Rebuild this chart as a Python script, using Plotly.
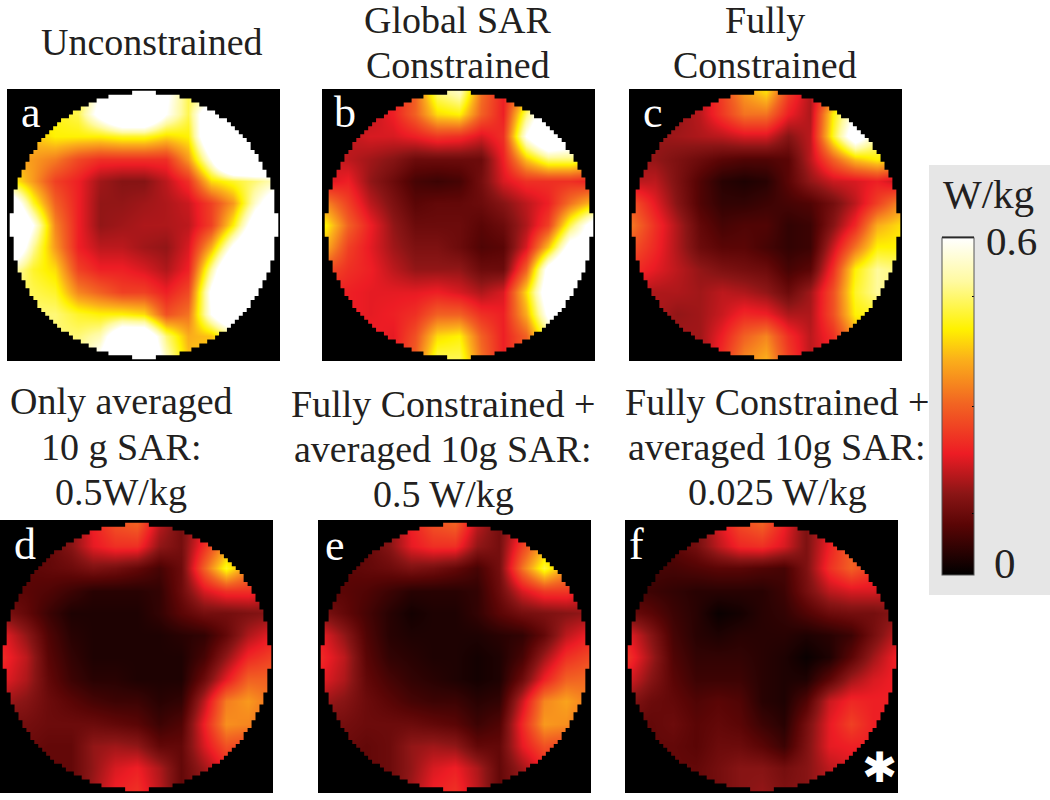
import plotly.graph_objects as go

# SAR maps, sampled on a 13x13 grid over each disc, in units of 0.01 W/kg (values above 60 clip to white)
sar_a = [
 [45,45,45,45,60,72,72,62,48,48,55,60,60],
 [45,45,45,48,64,80,80,60,48,72,80,80,80],
 [40,40,44,44,44,46,46,42,44,75,90,85,80],
 [38,36,33,27,24,24,24,24,36,60,95,95,80],
 [45,36,26,22,16,14,14,18,24,42,46,50,55],
 [70,46,30,22,15,15,16,17,19,26,36,56,70],
 [82,60,34,22,15,16,17,17,18,26,44,68,80],
 [75,52,36,22,18,18,16,15,20,38,62,78,75],
 [55,46,42,26,22,22,20,17,22,52,80,80,75],
 [50,48,46,34,30,26,26,22,27,62,85,80,75],
 [50,50,50,46,44,44,42,28,32,60,80,70,65],
 [50,50,50,50,54,72,72,50,38,40,50,50,50],
 [50,50,50,52,62,78,78,55,40,40,50,50,50]]
sar_b = [
 [18,18,18,22,30,50,55,32,22,35,45,45,45],
 [18,18,18,22,30,42,44,30,22,50,70,50,50],
 [18,18,20,20,22,25,24,20,24,60,78,70,60],
 [20,18,16,14,11,11,11,11,22,40,50,50,44],
 [20,22,15,11,7,6,7,12,20,24,24,24,22],
 [34,26,18,13,9,10,10,11,14,18,22,32,40],
 [44,30,22,15,11,11,11,9,11,17,26,48,65],
 [38,26,21,16,13,13,11,8,9,20,40,65,65],
 [28,24,22,18,15,15,15,11,11,30,64,80,70],
 [22,22,21,21,21,22,20,17,20,42,68,70,70],
 [22,22,21,22,24,30,30,24,22,38,62,60,60],
 [22,22,22,21,28,42,44,30,22,30,50,50,50],
 [22,22,22,22,30,48,48,32,22,30,45,45,45]]
sar_c = [
 [15,15,15,18,26,36,42,26,17,30,45,50,50],
 [15,15,15,18,25,32,32,22,17,44,60,50,50],
 [15,15,16,17,18,20,20,14,18,46,68,52,50],
 [16,15,13,11,9,8,8,9,18,30,40,44,40],
 [18,18,13,8,4,3,4,9,15,19,20,22,18],
 [28,21,14,8,5,5,6,7,8,12,18,26,34],
 [32,24,17,10,7,8,8,5,6,14,23,38,42],
 [28,23,17,11,9,9,7,5,6,19,32,44,44],
 [24,21,18,15,13,12,11,7,9,24,44,52,50],
 [18,17,17,16,18,17,15,11,16,28,46,52,50],
 [17,17,15,16,19,23,22,17,17,28,44,46,46],
 [16,16,16,16,22,30,34,24,18,24,36,40,40],
 [16,16,16,16,24,34,38,26,18,22,30,36,36]]
sar_d = [
 [10,10,10,14,22,28,30,18,12,20,28,28,28],
 [10,10,10,14,21,24,24,15,12,24,36,30,30],
 [9,9,10,11,13,12,10,7,11,30,46,34,30],
 [9,9,8,6,4,4,4,5,11,20,24,24,20],
 [13,10,6,3,3,3,3,5,9,12,12,13,14],
 [21,15,8,4,3,3,3,3,4,5,10,17,21],
 [23,18,9,5,3,3,3,3,3,7,15,23,26],
 [21,17,10,6,4,4,3,3,3,11,21,30,30],
 [16,14,11,9,7,6,6,4,5,18,33,36,32],
 [12,12,11,11,11,10,9,6,8,22,35,34,30],
 [11,11,10,10,15,16,15,10,10,20,28,26,26],
 [10,10,10,10,15,20,22,17,10,16,22,22,22],
 [10,10,10,10,16,22,24,18,10,14,20,20,20]]
sar_e = [
 [10,10,10,14,22,28,30,18,12,20,30,30,30],
 [10,10,10,14,21,24,24,15,12,26,38,32,32],
 [9,9,10,11,13,12,10,7,12,32,47,36,32],
 [9,9,8,6,4,4,4,5,11,20,25,25,20],
 [13,10,7,4,2,3,3,5,9,12,13,14,15],
 [21,15,8,4,3,3,3,3,4,5,10,18,22],
 [23,18,9,5,4,3,3,2,3,7,16,24,27],
 [21,17,10,7,5,4,3,2,3,11,22,30,31],
 [16,14,11,9,7,6,6,4,5,19,34,37,33],
 [12,12,11,11,11,10,9,6,8,23,36,35,30],
 [11,11,10,11,15,16,15,10,10,21,28,26,26],
 [10,10,10,11,15,20,22,17,10,16,22,22,22],
 [10,10,10,11,16,22,24,18,10,14,20,20,20]]
sar_f = [
 [7,7,7,12,20,27,30,22,13,20,27,27,27],
 [8,8,9,12,18,23,24,20,13,22,30,27,27],
 [7,7,7,8,9,9,8,7,13,24,30,25,24],
 [7,6,5,4,4,4,4,6,12,18,20,20,18],
 [11,9,6,4,1,2,4,5,8,11,12,12,14],
 [21,14,7,4,3,4,4,4,3,4,6,12,18],
 [24,16,8,5,5,5,4,3,1,3,9,16,22],
 [20,14,9,6,6,6,4,3,3,9,16,20,22],
 [14,11,10,8,9,8,4,3,8,19,23,22,22],
 [10,10,11,9,10,9,6,4,12,21,26,22,22],
 [10,10,10,9,11,11,9,6,13,21,22,22,22],
 [10,10,10,10,12,14,14,12,14,18,20,20,20],
 [10,10,10,10,12,14,15,13,14,18,20,20,20]]
panel_maps = [sar_a, sar_b, sar_c, sar_d, sar_e, sar_f]
panel_letters = ["a", "b", "c", "d", "e", "f"]

# Colour scale
scale_stops = [0, .15, .24, .36, .51, .64, .73, .87, 1]
scale_colors = ["#000000", "#5a0505", "#8a1515", "#ed1c24", "#f26522", "#fbb01a", "#fff200", "#fffaa0", "#ffffff"]
zmax = 0.6

W, H = 1050, 800
# Layout in page pixels: panel box (l, r, t, b), disc centre (cx, cy), disc radius
boxes = [(7, 280, 89, 361), (322, 595, 89, 361), (629, 902, 89, 361),
         (0, 273, 520, 793), (318, 591, 520, 793), (625, 898, 520, 793)]
centres = [(144, 225), (459, 225), (766, 225), (137, 657), (455, 657), (762, 657)]
radius = 133
cell = 3.95
grid_step = 2 * radius / 12

titles = [
 ("Unconstrained", 152, 42), ("Global SAR", 458, 20), ("Constrained", 458, 65),
 ("Fully", 765, 20), ("Constrained", 765, 65),
 ("Only averaged", 121, 401), ("10 g SAR:", 121, 447), ("0.5W/kg", 121, 492),
 ("Fully Constrained +", 443, 404), ("averaged 10g SAR:", 443, 449), ("0.5 W/kg", 443, 494),
 ("Fully Constrained +", 777, 402), ("averaged 10g SAR:", 777, 447), ("0.025 W/kg", 777, 492),
]
letter_pos = [(31, 113), (345, 113), (653, 113), (25, 544), (335, 545), (636, 544)]
FONT = "Liberation Serif"
TEXT = "#231f20"

fig = go.Figure()
layout = dict(width=W, height=H, margin=dict(l=0, r=0, t=0, b=0), showlegend=False,
              paper_bgcolor="white", plot_bgcolor="black")
shapes = [dict(type="rect", xref="paper", yref="paper", layer="below",
               x0=929/W, x1=1, y0=1-595/H, y1=1-165/H, fillcolor="#e6e6e6", line_width=0)]
annotations = []


def disc_mask(cx, cy, box):
    """Black frame with a stair-stepped round hole, in the panel's grid units."""
    l, r, t, b = box
    to_x = lambda px: (px - (cx - radius)) / grid_step
    to_y = lambda py: (py - (cy - radius)) / grid_step
    n = int(radius / cell) + 1
    right, left = [], []
    for k in range(-n, n):
        y0 = cy + k * cell
        mid = abs(k + 0.5) * cell
        if mid >= radius:
            continue
        half = round((radius ** 2 - mid ** 2) ** 0.5 / cell) * cell
        right += [(to_x(cx + half), to_y(y0)), (to_x(cx + half), to_y(y0 + cell))]
        left += [(to_x(cx - half), to_y(y0)), (to_x(cx - half), to_y(y0 + cell))]
    hole = right + left[::-1]
    p = f"M{to_x(l)},{to_y(t)}L{to_x(r)},{to_y(t)}L{to_x(r)},{to_y(b)}L{to_x(l)},{to_y(b)}Z"
    p += "M" + "L".join(f"{x:.3f},{y:.3f}" for x, y in hole) + "Z"
    return p


for i, (sar, letter, box, (cx, cy)) in enumerate(zip(panel_maps, panel_letters, boxes, centres), 1):
    l, r, t, b = box
    ax = "" if i == 1 else str(i)
    fig.add_trace(go.Heatmap(z=[[v / 100 for v in row] for row in sar],
                             x=list(range(13)), y=list(range(13)), zsmooth="best",
                             coloraxis="coloraxis", xaxis="x" + ax, yaxis="y" + ax, hoverinfo="skip"))
    layout["xaxis" + ax] = dict(domain=[l / W, r / W], visible=False, fixedrange=True,
                                range=[(l - (cx - radius)) / grid_step, (r - (cx - radius)) / grid_step])
    layout["yaxis" + ax] = dict(domain=[1 - b / H, 1 - t / H], visible=False, fixedrange=True,
                                range=[(b - (cy - radius)) / grid_step, (t - (cy - radius)) / grid_step])
    shapes.append(dict(type="path", xref="x" + ax, yref="y" + ax, path=disc_mask(cx, cy, box),
                       fillcolor="black", line_width=0, layer="above"))
    lx, ly = letter_pos[i - 1]
    annotations.append(dict(text=letter, x=lx / W, y=1 - ly / H, xref="paper", yref="paper",
                            showarrow=False, font=dict(family=FONT, size=44, color="white"),
                            xanchor="center", yanchor="middle"))

for text, x, y in titles:
    annotations.append(dict(text=text, x=x / W, y=1 - y / H, xref="paper", yref="paper", showarrow=False,
                            font=dict(family=FONT, size=38, color=TEXT), xanchor="center", yanchor="middle"))
for text, x, y, size in [("W/kg", 988, 194, 41), ("0.6", 1011, 241, 41), ("0", 1005, 563, 43)]:
    annotations.append(dict(text=text, x=x / W, y=1 - y / H, xref="paper", yref="paper", showarrow=False,
                            font=dict(family=FONT, size=size, color=TEXT), xanchor="center", yanchor="middle"))
annotations.append(dict(text="✱", x=879 / W, y=1 - 767 / H, xref="paper", yref="paper", showarrow=False,
                        font=dict(family="DejaVu Sans", size=42, color="white"), xanchor="center", yanchor="middle"))

shapes.append(dict(type="line", xref="paper", yref="paper", x0=942 / W, x1=974 / W,
                   y0=1 - 237.5 / H, y1=1 - 237.5 / H, line=dict(color="black", width=2)))

layout["shapes"] = shapes
layout["annotations"] = annotations
layout["coloraxis"] = dict(
    cmin=0, cmax=zmax, colorscale=[[s, c] for s, c in zip(scale_stops, scale_colors)],
    colorbar=dict(x=942 / W, xanchor="left", xpad=0, ypad=0, y=1 - 575 / H, yanchor="bottom",
                  lenmode="pixels", len=337, thicknessmode="pixels", thickness=32,
                  outlinewidth=1, outlinecolor="#555555", showticklabels=False, ticks="inside",
                  ticklen=2, tickcolor="black", tickvals=[0.11, 0.3, 0.495]))
fig.update_layout(**layout)
fig.write_html("out.html", config={"displayModeBar": False},
               post_script="document.body.style.margin='0';")
